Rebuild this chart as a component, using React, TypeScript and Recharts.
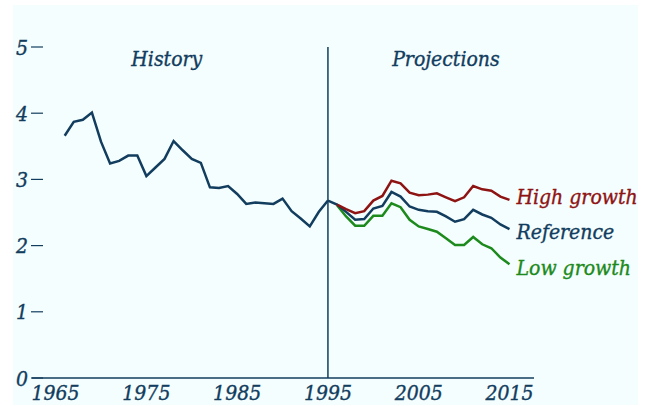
import React from 'react';
import { LineChart, Line, XAxis, YAxis, ReferenceLine, ReferenceDot } from 'recharts';

const historyYears = [1966, 1967, 1968, 1969, 1970, 1971, 1972, 1973, 1974, 1975, 1976, 1977, 1978, 1979, 1980,
  1981, 1982, 1983, 1984, 1985, 1986, 1987, 1988, 1989, 1990, 1991, 1992, 1993, 1994, 1995];
const historyValues = [3.66, 3.87, 3.9, 4.01, 3.57, 3.24, 3.28, 3.36, 3.36, 3.05, 3.18, 3.31, 3.58, 3.44, 3.31,
  3.25, 2.88, 2.87, 2.9, 2.78, 2.63, 2.65, 2.64, 2.63, 2.71, 2.52, 2.41, 2.29, 2.51, 2.68];

const projectionYears = [1996, 1997, 1998, 1999, 2000, 2001, 2002, 2003, 2004, 2005,
  2006, 2007, 2008, 2009, 2010, 2011, 2012, 2013, 2014, 2015];
const highGrowth = [2.62, 2.55, 2.49, 2.52, 2.68, 2.75, 2.98, 2.94, 2.8, 2.76,
  2.77, 2.79, 2.73, 2.67, 2.73, 2.9, 2.85, 2.83, 2.74, 2.69];
const reference = [2.62, 2.51, 2.39, 2.4, 2.56, 2.6, 2.81, 2.74, 2.59, 2.54,
  2.52, 2.51, 2.44, 2.36, 2.4, 2.54, 2.47, 2.42, 2.32, 2.25];
const lowGrowth = [2.61, 2.44, 2.3, 2.3, 2.45, 2.45, 2.64, 2.58, 2.39, 2.29,
  2.25, 2.21, 2.11, 2.01, 2.01, 2.13, 2.02, 1.96, 1.82, 1.72];

const xTicks = [1965, 1975, 1985, 1995, 2005, 2015];
const yTicks = [0, 1, 2, 3, 4, 5];

const NAVY = '#123d5e';
const RED = '#8e1414';
const GREEN = '#1c8a1c';
const FONT = '"DejaVu Serif Condensed", "DejaVu Serif", serif';
const FS = 21;
const TEXT_STROKE = 0.35;

const historyData = historyYears.map((year, i) => ({ year, value: historyValues[i] }));
const refData = [{ year: 1995, value: historyValues[historyValues.length - 1] }].concat(
  projectionYears.map((year, i) => ({ year, value: reference[i] }))
);
const highData = projectionYears.map((year, i) => ({ year, value: highGrowth[i] }));
const lowData = projectionYears.map((year, i) => ({ year, value: lowGrowth[i] }));

const YTick = (props: any) => {
  const { x, y, payload } = props;
  return (
    <g>
      <text x={x - 4} y={y} dy={7.5} textAnchor="end" fill={NAVY} stroke={NAVY} strokeWidth={TEXT_STROKE}
        fontFamily={FONT} fontStyle="italic" fontSize={FS}>
        {payload.value}
      </text>
      <line x1={x - 1} x2={x + 11} y1={y} y2={y} stroke={NAVY} strokeWidth={1.2} />
    </g>
  );
};

// series name drawn next to the last point
const endLabel = (text: string, color: string, count: number, dy: number) => (props: any) => {
  const { x, y, index } = props;
  if (index !== count - 1) return null;
  return (
    <text x={x + 7} y={y} dy={dy} fill={color} stroke={color} strokeWidth={TEXT_STROKE}
      fontFamily={FONT} fontStyle="italic" fontSize={FS}>
      {text}
    </text>
  );
};

const topLabel = (value: string) => ({
  value, position: 'center' as const, fill: NAVY, stroke: NAVY, strokeWidth: TEXT_STROKE,
  fontFamily: FONT, fontStyle: 'italic', fontSize: FS,
});

export default function App() {
  return (
    <div style={{ position: 'absolute', left: 0, top: 0, width: 650, height: 406, background: '#fff' }}>
      <div style={{ position: 'absolute', left: 13, top: 5, width: 625, height: 400, background: '#f5fefe' }} />
      <div style={{ position: 'absolute', left: 0, top: 0 }}>
        <LineChart width={650} height={406} margin={{ top: 47, right: 116, bottom: 0, left: 0 }}>
          <XAxis
            type="number"
            dataKey="year"
            domain={[1962.4, 2017.7]}
            ticks={xTicks}
            allowDuplicatedCategory={false}
            tickLine={false}
            tickSize={0}
            axisLine={{ stroke: NAVY, strokeWidth: 1.5 }}
            tick={{ fill: NAVY, stroke: NAVY, strokeWidth: TEXT_STROKE, fontFamily: FONT, fontStyle: 'italic', fontSize: FS }}
            tickMargin={7}
            height={28}
          />
          <YAxis
            type="number"
            domain={[0, 5]}
            ticks={yTicks}
            width={32}
            axisLine={false}
            tickLine={false}
            tickSize={0}
            tickMargin={0}
            tick={<YTick />}
          />
          <ReferenceLine x={1995} stroke={NAVY} strokeWidth={1.5} />
          <ReferenceDot x={1977.25} y={4.83} r={0} stroke="none" fill="none" label={topLabel('History')} />
          <ReferenceDot x={2008} y={4.83} r={0} stroke="none" fill="none" label={topLabel('Projections')} />
          <Line data={historyData} dataKey="value" type="linear" stroke={NAVY} strokeWidth={2.5} dot={false} isAnimationActive={false} />
          <Line data={lowData} dataKey="value" type="linear" stroke={GREEN} strokeWidth={2.5} dot={false} isAnimationActive={false}
            label={endLabel('Low growth', GREEN, lowData.length, 11)} />
          <Line data={refData} dataKey="value" type="linear" stroke={NAVY} strokeWidth={2.5} dot={false} isAnimationActive={false}
            label={endLabel('Reference', NAVY, refData.length, 10)} />
          <Line data={highData} dataKey="value" type="linear" stroke={RED} strokeWidth={2.5} dot={false} isAnimationActive={false}
            label={endLabel('High growth', RED, highData.length, 4)} />
        </LineChart>
      </div>
    </div>
  );
}
